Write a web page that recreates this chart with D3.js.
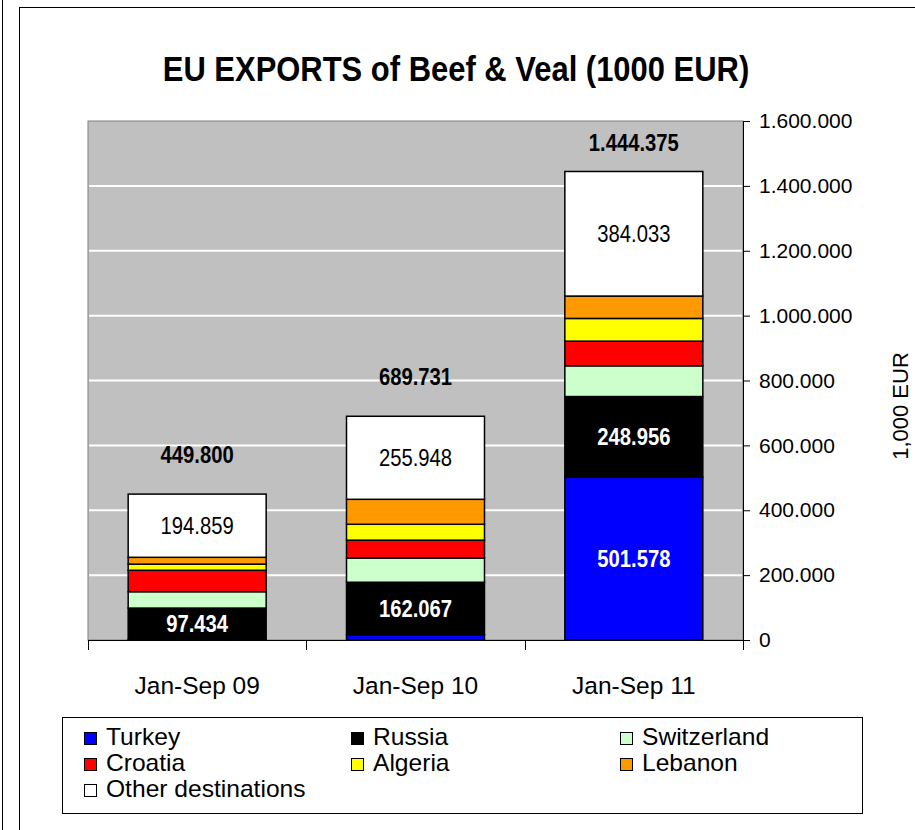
<!DOCTYPE html>
<html>
<head>
<meta charset="utf-8">
<script src="https://cdn.jsdelivr.net/npm/d3@7"></script>
<style>
  html, body { margin: 0; padding: 0; background: #fff; }
  svg { display: block; }
  text { font-family: "Liberation Sans", Arial, sans-serif; }
</style>
</head>
<body>
<svg id="chart" width="915" height="830"></svg>
<script>
// ---- data (values in 1000 EUR) ----
const categories = ["Jan-Sep 09", "Jan-Sep 10", "Jan-Sep 11"];
const seriesNames = ["Turkey", "Russia", "Switzerland", "Croatia", "Algeria", "Lebanon", "Other destinations"];
const seriesColors = ["#0000ff", "#000000", "#ccffcc", "#ff0000", "#ffff00", "#ff9900", "#ffffff"];
const turkey      = [1000, 16000, 501578];
const russia      = [97434, 162067, 248956];
const switzerland = [50500, 74700, 94800];
const croatia     = [66000, 55000, 76000];
const algeria     = [19000, 49000, 70000];
const lebanon     = [21000, 77000, 69000];
const other       = [194859, 255948, 384033];
const totals      = [449800, 689731, 1444375];
const yTicks      = [0, 200000, 400000, 600000, 800000, 1000000, 1200000, 1400000, 1600000];
const titleText   = "EU EXPORTS of Beef & Veal (1000 EUR)";
const yTitle      = "1,000 EUR";

const seriesValues = [turkey, russia, switzerland, croatia, algeria, lebanon, other];
const rows = categories.map((c, i) => {
  const r = { category: c };
  seriesNames.forEach((s, j) => r[s] = seriesValues[j][i]);
  return r;
});

const locale = d3.formatLocale({ decimal: ",", thousands: ".", grouping: [3], currency: ["", ""] });
const fmt = locale.format(",d");

const svg = d3.select("#chart");
const plot = { left: 88, right: 743, top: 121, bottom: 640 };

// outer frame lines
svg.append("line").attr("x1", 2.5).attr("x2", 2.5).attr("y1", 0).attr("y2", 830)
  .attr("stroke", "#000").attr("stroke-width", 1);
svg.append("rect").attr("x", 19.5).attr("y", 7.5).attr("width", 1000).attr("height", 1000)
  .attr("fill", "#fff").attr("stroke", "#000").attr("stroke-width", 1);

// title
svg.append("text")
  .attr("transform", `translate(456,81) scale(0.86,1)`)
  .attr("text-anchor", "middle")
  .attr("font-size", 36).attr("font-weight", "bold")
  .text(titleText);

const x = d3.scaleBand().domain(categories).range([plot.left, plot.right])
  .paddingInner(0.368).paddingOuter(0.184);
const y = d3.scaleLinear().domain([0, 1600000]).range([plot.bottom, plot.top]);

// plot background
svg.append("rect").attr("x", plot.left).attr("y", plot.top)
  .attr("width", plot.right - plot.left).attr("height", plot.bottom - plot.top)
  .attr("fill", "#c0c0c0").attr("stroke", "#808080").attr("stroke-width", 1);

// gridlines
svg.append("g").selectAll("line").data(yTicks.filter(d => d > 0 && d < 1600000)).join("line")
  .attr("x1", plot.left + 1).attr("x2", plot.right - 1)
  .attr("y1", d => y(d)).attr("y2", d => y(d))
  .attr("stroke", "#fff").attr("stroke-width", 2);

// stacked bars
const stack = d3.stack().keys(seriesNames);
const stacked = stack(rows);
const gBars = svg.append("g");
stacked.forEach((layer, j) => {
  gBars.selectAll(null).data(layer).join("rect")
    .attr("x", d => x(d.data.category))
    .attr("width", x.bandwidth())
    .attr("y", d => y(d[1]))
    .attr("height", d => y(d[0]) - y(d[1]))
    .attr("fill", seriesColors[j])
    .attr("stroke", "#000").attr("stroke-width", 1.5);
});

// data labels inside segments
function segLabel(layerIdx, filterFn, color, weight) {
  const layer = stacked[layerIdx];
  layer.forEach((d, i) => {
    if (!filterFn(d, i)) return;
    const cx = x(d.data.category) + x.bandwidth() / 2;
    const cy = (y(d[0]) + y(d[1])) / 2;
    svg.append("text")
      .attr("transform", `translate(${cx},${cy + 8}) scale(0.88,1)`)
      .attr("text-anchor", "middle")
      .attr("font-size", 23).attr("font-weight", weight)
      .attr("fill", color)
      .text(fmt(d[1] - d[0]));
  });
}
segLabel(0, d => (d[1] - d[0]) > 100000, "#fff", "bold");
segLabel(1, () => true, "#fff", "bold");
segLabel(6, () => true, "#000", "normal");

// total labels above bars
totals.forEach((t, i) => {
  const cx = x(categories[i]) + x.bandwidth() / 2;
  const cy = Math.max(y(t) - 39, plot.top + 22);
  svg.append("text")
    .attr("transform", `translate(${cx},${cy + 8}) scale(0.88,1)`)
    .attr("text-anchor", "middle")
    .attr("font-size", 23).attr("font-weight", "bold")
    .attr("fill", "#000")
    .text(fmt(t));
});

// right y axis
const yAxis = d3.axisRight(y).tickValues(yTicks).tickFormat(fmt).tickSize(7).tickPadding(9);
const gy = svg.append("g").attr("transform", `translate(${plot.right},0)`).call(yAxis);
gy.select(".domain").attr("stroke", "#000").attr("stroke-width", 1);
gy.selectAll(".tick line").attr("stroke", "#000");
gy.selectAll(".tick text").attr("font-size", 21).attr("fill", "#000")
  .attr("font-family", "Liberation Sans, Arial, sans-serif");

// x axis line & ticks at category boundaries
const gx = svg.append("g");
gx.append("line").attr("x1", plot.left).attr("x2", plot.right)
  .attr("y1", plot.bottom + 0.5).attr("y2", plot.bottom + 0.5).attr("stroke", "#000");
const boundaries = [plot.left].concat(categories.map(c => x(c) + x.bandwidth() + x.step() * x.paddingInner() / 2));
boundaries[boundaries.length - 1] = plot.right;
gx.selectAll(null).data(boundaries).join("line")
  .attr("x1", d => Math.round(d) + 0.5).attr("x2", d => Math.round(d) + 0.5)
  .attr("y1", plot.bottom).attr("y2", plot.bottom + 10).attr("stroke", "#000");
gx.selectAll(null).data(categories).join("text")
  .attr("x", d => x(d) + x.bandwidth() / 2).attr("y", 694)
  .attr("text-anchor", "middle").attr("font-size", 24.5).attr("fill", "#000")
  .text(d => d);

// y axis title
svg.append("text")
  .attr("transform", `translate(908,406) rotate(-90)`)
  .attr("text-anchor", "middle").attr("font-size", 22).attr("fill", "#000")
  .text(yTitle);

// legend
const lg = svg.append("g");
lg.append("rect").attr("x", 62.5).attr("y", 717.5).attr("width", 800).attr("height", 96)
  .attr("fill", "#fff").attr("stroke", "#000").attr("stroke-width", 1);
const colX = [84, 351, 620];
const rowY = [737, 763, 789];
seriesNames.forEach((s, i) => {
  const cx = colX[i % 3], cy = rowY[Math.floor(i / 3)];
  lg.append("rect").attr("x", cx + 0.5).attr("y", cy - 4.5).attr("width", 12).attr("height", 12)
    .attr("fill", seriesColors[i]).attr("stroke", "#000").attr("stroke-width", 1);
  lg.append("text").attr("transform", `translate(${cx + 22},${cy + 8}) scale(1.07,1)`)
    .attr("font-size", 23).attr("fill", "#000").text(s);
});
</script>
</body>
</html>
